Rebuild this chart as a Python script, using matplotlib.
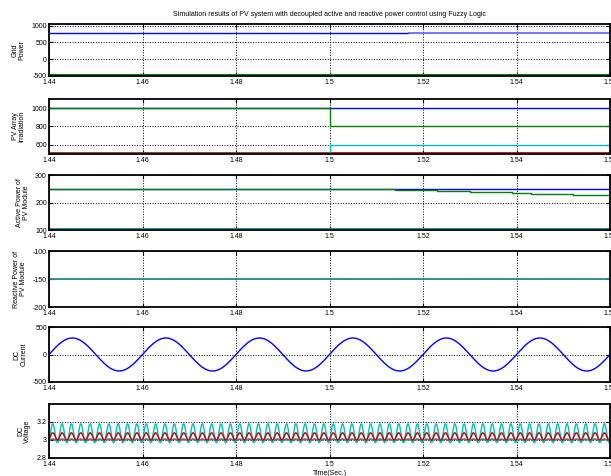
import numpy as np
import matplotlib.pyplot as plt

plt.rcParams['font.family'] = ['Liberation Sans', 'DejaVu Sans']
plt.rcParams['font.size'] = 5
plt.rcParams['axes.unicode_minus'] = False

# ---- data ----
x_ticks = [1.44, 1.46, 1.48, 1.5, 1.52, 1.54, 1.56]
x_tick_labels = ['1.44', '1.46', '1.48', '1.5', '1.52', '1.54', '1.56']

# grid power
grid_t = [1.44, 1.517, 1.56]
grid_blue = [790, 778, 778]
grid_green = [-480, -480, -480]

# PV array irradiation (step at t = 1.5)
irr_t = [1.44, 1.5, 1.56]
irr_blue = [1000, 1000, 1000]
irr_green = [1000, 800, 800]
irr_red = [506, 506, 506]
irr_cyan = [506, 600, 600]

# active power of PV module
pact_t = [1.44, 1.508, 1.514, 1.523, 1.530, 1.539, 1.543, 1.548, 1.552, 1.5555, 1.56]
pact_green = [250, 248, 245.5, 242, 238, 234.5, 232, 230, 228.5, 227, 227]
pact_blue = [250] * len(pact_t)
pact_cyan = [102] * len(pact_t)

# reactive power of PV module
q_t = [1.44, 1.56]
q_val = [-150, -150]

# DC current (sinusoid)
i_amp = 300
i_freq = 50

# DC voltage ripple
v_freq = 500
v_peak_t = 1.4408
v_cyan_mean, v_cyan_amp = 3.075, 0.105
v_red_mean, v_red_amp = 3.04, 0.04
v_gray_mean, v_gray_amp = 3.0, 0.01

# ---- figure ----
W, H = 611, 476
fig = plt.figure(figsize=(W / 100, H / 100), dpi=100)

panels_px = [(24, 76), (99, 154), (175, 230), (251, 307), (327, 382), (404, 458)]
left_px, right_px = 49, 610
axes = []
for top, bot in panels_px:
    ax = fig.add_axes([left_px / W, 1 - bot / H, (right_px - left_px) / W, (bot - top) / H])
    axes.append(ax)

lw = 1.0
blue = '#0000ff'
green = '#008000'
red = '#c00000'
cyan = '#00bfbf'

ax = axes[0]
ax.step(grid_t[:2], grid_blue[:2], where='post', color=blue, lw=lw)
ax.step(grid_t[1:], grid_blue[1:], where='post', color='#6b6bff', lw=lw + 0.3)
ax.plot(grid_t, grid_green, color=green, lw=lw + 0.5)
ax.set_ylim(-500, 1050)
ax.set_yticks([-500, 0, 500, 1000])
ax.set_ylabel('Grid\nPower', linespacing=1.0)

ax = axes[1]
ax.step(irr_t, irr_blue, where='post', color=blue, lw=lw)
ax.step(irr_t, irr_green, where='post', color=green, lw=lw)
ax.step(irr_t, irr_red, where='post', color=red, lw=lw + 1)
ax.step(irr_t, irr_cyan, where='post', color=cyan, lw=lw)
ax.set_ylim(500, 1100)
ax.set_yticks([600, 800, 1000])
ax.set_ylabel('PV Array\nIrradiation', linespacing=1.0)

ax = axes[2]
ax.plot(pact_t, pact_blue, color=blue, lw=lw)
ax.step(pact_t, pact_green, where='post', color=green, lw=lw)
ax.plot(pact_t, pact_cyan, color='#1a9a9a', lw=lw + 0.5)
ax.set_ylim(100, 300)
ax.set_yticks([100, 200, 300])
ax.set_ylabel('Active Power of\nPV Module', linespacing=1.0)

ax = axes[3]
ax.plot(q_t, q_val, color='#2a8a8a', lw=lw + 0.3)
ax.set_ylim(-200, -100)
ax.set_yticks([-200, -150, -100])
ax.set_ylabel('Reactive Power of\nPV Module', linespacing=1.0)

t = np.linspace(1.44, 1.56, 6000)
ax = axes[4]
ax.plot(t, i_amp * np.sin(2 * np.pi * i_freq * (t - 1.44)), color=blue, lw=lw)
ax.set_ylim(-500, 500)
ax.set_yticks([-500, 0, 500])
ax.set_ylabel('DC\nCurrent', linespacing=1.0)

ax = axes[5]
ph = np.cos(2 * np.pi * v_freq * (t - v_peak_t))
ax.plot(t, v_gray_mean + v_gray_amp * ph, color='#6f6f6f', lw=lw + 0.3)
ax.plot(t, v_cyan_mean + v_cyan_amp * ph, color=cyan, lw=lw)
ax.plot(t, v_red_mean + v_red_amp * ph, color=red, lw=lw)
ax.set_ylim(2.8, 3.4)
ax.set_yticks([2.8, 3.0, 3.2])
ax.set_yticklabels(['2.8', '3', '3.2'])
ax.set_ylabel('DC\nVoltage', linespacing=1.0)
ax.set_xlabel('Time(Sec.)', labelpad=1)

for ax in axes:
    ax.set_xlim(1.44, 1.56)
    ax.set_xticks(x_ticks)
    ax.set_xticklabels(x_tick_labels)
    ax.grid(True, color='black', linestyle=':', linewidth=0.7)
    ax.tick_params(direction='in', top=True, right=True, length=3, width=0.8, pad=1.5)
    ax.tick_params(axis='x', pad=2.5)
    for s in ax.spines.values():
        s.set_linewidth(1.3)
    ax.yaxis.labelpad = 4

axes[0].set_title('Simulation results of PV system with decoupled active and reactive power control using Fuzzy Logic',
                  fontsize=5, pad=6)

fig.savefig('out.png', dpi=100)
